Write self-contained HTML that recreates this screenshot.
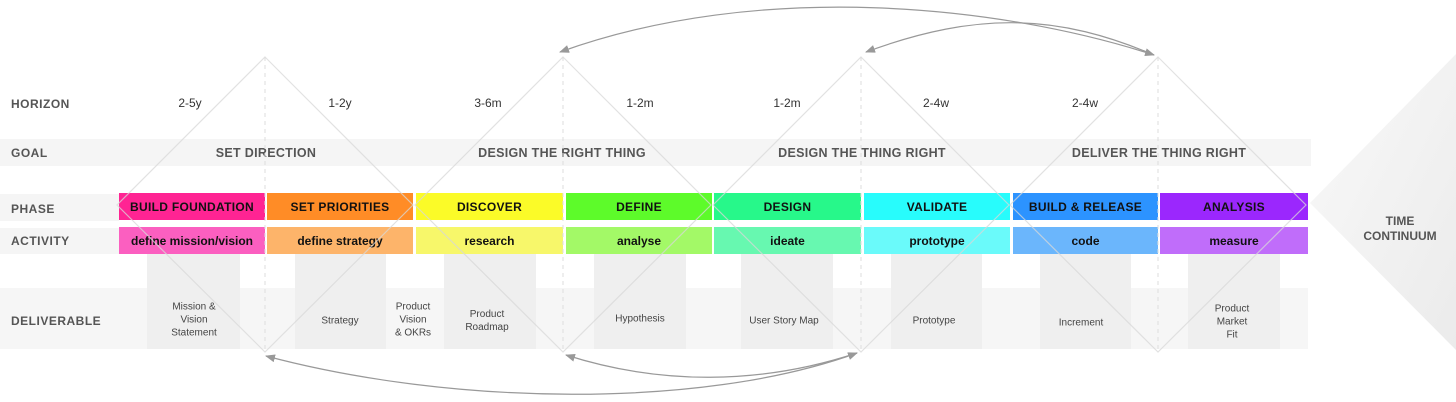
<!DOCTYPE html>
<html><head><meta charset="utf-8"><style>
body{margin:0;width:1456px;height:402px;overflow:hidden;background:#fff;font-family:"Liberation Sans",Arial,sans-serif;position:relative}
.a{position:absolute}
.lbl{position:absolute;left:11px;font-size:12px;font-weight:bold;color:#555;letter-spacing:0.5px}
.hz{position:absolute;top:96px;font-size:12px;color:#333;transform:translateX(-50%)}
.goal{position:absolute;top:146px;font-size:12.5px;font-weight:bold;color:#555;letter-spacing:0.3px;transform:translateX(-50%);white-space:nowrap}
.ph,.ac{position:absolute;display:flex;align-items:center;justify-content:center;font-weight:bold;color:#111;font-size:12px;white-space:nowrap}
.ph{top:193px;height:27px;letter-spacing:0.3px}
.ac{top:227px;height:27px}
.dc{position:absolute;background:#efefef;top:254px;height:95px}
.dt{position:absolute;font-size:10px;color:#444;text-align:center;line-height:13px;transform:translate(-50%,-50%);white-space:nowrap}
</style></head><body>
<div class="a" style="left:0;top:139px;width:1311px;height:27px;background:#f5f5f5"></div>
<div class="a" style="left:0;top:194px;width:119px;height:27px;background:#f5f5f5"></div>
<div class="a" style="left:0;top:228px;width:119px;height:26px;background:#f5f5f5"></div>
<div class="a" style="left:0;top:288px;width:1308px;height:61px;background:#f6f6f6"></div>
<div class="dc" style="left:147px;width:93px"></div>
<div class="dc" style="left:295px;width:91px"></div>
<div class="dc" style="left:444px;width:92px"></div>
<div class="dc" style="left:594px;width:92px"></div>
<div class="dc" style="left:741px;width:92px"></div>
<div class="dc" style="left:891px;width:91px"></div>
<div class="dc" style="left:1040px;width:91px"></div>
<div class="dc" style="left:1188px;width:92px"></div>
<svg class="a" style="left:0;top:0" width="1456" height="402">
<defs><linearGradient id="g" x1="0" y1="0" x2="1" y2="1"><stop offset="0" stop-color="#f9f9f9"/><stop offset="1" stop-color="#ebebeb"/></linearGradient></defs>
<polygon points="1310,203 1456,54 1456,350" fill="url(#g)"/>
</svg>
<div class="lbl" style="top:97px">HORIZON</div>
<div class="lbl" style="top:146px">GOAL</div>
<div class="lbl" style="top:202px">PHASE</div>
<div class="lbl" style="top:234px">ACTIVITY</div>
<div class="lbl" style="top:314px">DELIVERABLE</div>
<div class="hz" style="left:190px">2-5y</div>
<div class="hz" style="left:340px">1-2y</div>
<div class="hz" style="left:488px">3-6m</div>
<div class="hz" style="left:640px">1-2m</div>
<div class="hz" style="left:787px">1-2m</div>
<div class="hz" style="left:936px">2-4w</div>
<div class="hz" style="left:1085px">2-4w</div>
<div class="goal" style="left:266px">SET DIRECTION</div>
<div class="goal" style="left:562px">DESIGN THE RIGHT THING</div>
<div class="goal" style="left:862px">DESIGN THE THING RIGHT</div>
<div class="goal" style="left:1159px">DELIVER THE THING RIGHT</div>
<div class="ph" style="left:119px;width:146px;background:#ff2493">BUILD FOUNDATION</div>
<div class="ph" style="left:267px;width:146px;background:#ff8c26">SET PRIORITIES</div>
<div class="ph" style="left:416px;width:147px;background:#fbfb28">DISCOVER</div>
<div class="ph" style="left:566px;width:146px;background:#5dfb2a">DEFINE</div>
<div class="ph" style="left:714px;width:147px;background:#27f88a">DESIGN</div>
<div class="ph" style="left:864px;width:146px;background:#28fcfc">VALIDATE</div>
<div class="ph" style="left:1013px;width:145px;background:#2c93ff">BUILD &amp; RELEASE</div>
<div class="ph" style="left:1160px;width:148px;background:#9b27fd">ANALYSIS</div>
<div class="ac" style="left:119px;width:146px;background:#fb5fc0">define mission/vision</div>
<div class="ac" style="left:267px;width:146px;background:#fdb46a">define strategy</div>
<div class="ac" style="left:416px;width:147px;background:#f7f76a">research</div>
<div class="ac" style="left:566px;width:146px;background:#a3f967">analyse</div>
<div class="ac" style="left:714px;width:147px;background:#67f8b0">ideate</div>
<div class="ac" style="left:864px;width:146px;background:#6afafa">prototype</div>
<div class="ac" style="left:1013px;width:145px;background:#6bb6fc">code</div>
<div class="ac" style="left:1160px;width:148px;background:#c06dfa">measure</div>
<div class="dt" style="left:194px;top:320px">Mission &amp;<br>Vision<br>Statement</div>
<div class="dt" style="left:340px;top:321px">Strategy</div>
<div class="dt" style="left:413px;top:320px">Product<br>Vision<br>&amp; OKRs</div>
<div class="dt" style="left:487px;top:321px">Product<br>Roadmap</div>
<div class="dt" style="left:640px;top:319px">Hypothesis</div>
<div class="dt" style="left:784px;top:321px">User Story Map</div>
<div class="dt" style="left:934px;top:321px">Prototype</div>
<div class="dt" style="left:1081px;top:323px">Increment</div>
<div class="dt" style="left:1232px;top:322px">Product<br>Market<br>Fit</div>
<div class="a" style="left:1360px;top:214px;font-size:12px;font-weight:bold;color:#555;text-align:center;line-height:15px;width:80px">TIME<br>CONTINUUM</div>
<svg class="a" style="left:0;top:0" width="1456" height="402">
<defs><marker id="m" markerWidth="10" markerHeight="8" refX="9" refY="4" orient="auto-start-reverse" markerUnits="userSpaceOnUse"><path d="M0,0 L10,4 L0,8 Z" fill="#999"/></marker></defs>
<g fill="none" stroke="#d8d8d8" stroke-width="1.2" opacity="0.75">
<polygon points="265,57 413,205 265,352 117,205"/>
<polygon points="563,57 711,205 563,352 415,205"/>
<polygon points="861,57 1009,205 861,352 713,205"/>
<polygon points="1158,57 1306,205 1158,352 1010,205"/>
</g>
<g stroke="#ddd" stroke-dasharray="4,4" stroke-width="1">
<line x1="265" y1="57" x2="265" y2="352"/><line x1="563" y1="57" x2="563" y2="352"/><line x1="861" y1="57" x2="861" y2="352"/><line x1="1158" y1="57" x2="1158" y2="352"/>
</g>
<g fill="none" stroke="#999" stroke-width="1.2">
<path d="M560,52 C760,-20 1000,5 1154,55" marker-start="url(#m)" marker-end="url(#m)"/>
<path d="M866,52 C980,10 1060,15 1154,55" marker-start="url(#m)"/>
<path d="M266,356 C450,405 700,410 857,353" marker-start="url(#m)" marker-end="url(#m)"/>
<path d="M566,355 C660,385 760,385 857,353" marker-start="url(#m)"/>
</g>
</svg>
</body></html>
